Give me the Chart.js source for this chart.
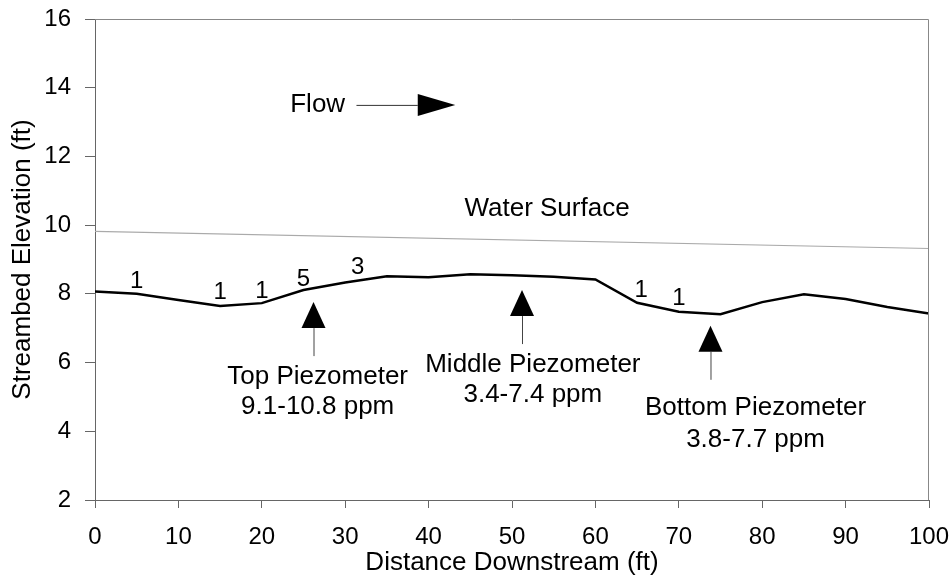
<!DOCTYPE html>
<html>
<head>
<meta charset="utf-8">
<script src="https://cdn.jsdelivr.net/npm/chart.js@4.4.1/dist/chart.umd.min.js"></script>
<style>
  html, body { margin: 0; padding: 0; background: #fff; }
  #wrap { width: 951px; height: 577px; }
</style>
</head>
<body>
<div id="wrap"><canvas id="chart"></canvas></div>
<script>
// streambed profile
const distance = [0, 5, 10, 15, 20, 25, 30, 35, 40, 45, 50, 55, 60, 65, 70, 75, 80, 85, 90, 95, 100];
const bedElevation = [8.07, 8.0, 7.82, 7.65, 7.73, 8.11, 8.33, 8.51, 8.48, 8.57, 8.54, 8.5, 8.42, 7.74, 7.48, 7.41, 7.76, 7.99, 7.85, 7.62, 7.43];

// water surface
const surfaceDistance = [0, 100];
const surfaceElevation = [9.82, 9.32];

// small numbers above the bed
const noteDistance = [5, 15, 20, 25, 31.5, 65.5, 70];
const noteElevation = [8.37, 8.03, 8.08, 8.43, 8.78, 8.11, 7.88];
const noteText = ['1', '1', '1', '5', '3', '1', '1'];

// piezometers
const piezoName = ['Top Piezometer', 'Middle Piezometer', 'Bottom Piezometer'];
const piezoRange = ['9.1-10.8 ppm', '3.4-7.4 ppm', '3.8-7.7 ppm'];
const piezoDistance = [26.2, 51.2, 73.8];
const piezoTip = [7.76, 8.11, 7.07];
const piezoLabelDistance = [26.7, 52.5, 79.2];
const piezoNameElevation = [5.58, 5.93, 4.68];
const piezoRangeElevation = [4.71, 5.06, 3.75];

const FONT = '"Liberation Sans", Arial, Helvetica, sans-serif';

const annotations = {
    id: 'annotations',
    afterDatasetsDraw(chart) {
        const { ctx, chartArea: a, scales: { x, y } } = chart;
        ctx.save();

        // top and right frame
        ctx.strokeStyle = '#888';
        ctx.lineWidth = 1;
        ctx.beginPath();
        ctx.moveTo(a.left, a.top + 0.5);
        ctx.lineTo(a.right - 0.5, a.top + 0.5);
        ctx.lineTo(a.right - 0.5, a.bottom);
        ctx.stroke();

        ctx.fillStyle = '#000';
        ctx.textAlign = 'center';
        ctx.textBaseline = 'middle';

        // counts
        ctx.font = '24px ' + FONT;
        noteText.forEach((t, i) => {
            ctx.fillText(t, x.getPixelForValue(noteDistance[i]), y.getPixelForValue(noteElevation[i]));
        });

        // piezometer arrows + labels
        ctx.font = '26px ' + FONT;
        piezoName.forEach((name, i) => {
            const px = x.getPixelForValue(piezoDistance[i]);
            const py = y.getPixelForValue(piezoTip[i]);
            ctx.strokeStyle = '#444';
            ctx.lineWidth = 1;
            ctx.beginPath();
            ctx.moveTo(px + 0.5, py + 26);
            ctx.lineTo(px + 0.5, py + 54);
            ctx.stroke();
            ctx.beginPath();
            ctx.moveTo(px, py);
            ctx.lineTo(px + 12, py + 26);
            ctx.lineTo(px - 12, py + 26);
            ctx.closePath();
            ctx.fill();
            const lx = x.getPixelForValue(piezoLabelDistance[i]);
            ctx.fillText(name, lx, y.getPixelForValue(piezoNameElevation[i]));
            ctx.fillText(piezoRange[i], lx, y.getPixelForValue(piezoRangeElevation[i]));
        });

        // water surface label
        ctx.fillText('Water Surface', x.getPixelForValue(54.2), y.getPixelForValue(10.47));

        // flow arrow
        const fy = y.getPixelForValue(13.5);
        ctx.fillText('Flow', x.getPixelForValue(26.7), fy);
        ctx.strokeStyle = '#333';
        ctx.beginPath();
        ctx.moveTo(x.getPixelForValue(31.35), fy + 0.5);
        ctx.lineTo(x.getPixelForValue(38.7), fy + 0.5);
        ctx.stroke();
        ctx.beginPath();
        ctx.moveTo(x.getPixelForValue(38.7), fy - 11);
        ctx.lineTo(x.getPixelForValue(43.2), fy);
        ctx.lineTo(x.getPixelForValue(38.7), fy + 11);
        ctx.closePath();
        ctx.fill();

        ctx.restore();
    }
};

new Chart(document.getElementById('chart'), {
    type: 'line',
    data: {
        datasets: [
            {
                label: 'Streambed',
                data: distance.map((d, i) => ({ x: d, y: bedElevation[i] })),
                borderColor: '#000',
                borderWidth: 2.5,
                pointRadius: 0,
                tension: 0
            },
            {
                label: 'Water Surface',
                data: surfaceDistance.map((d, i) => ({ x: d, y: surfaceElevation[i] })),
                borderColor: '#aaa',
                borderWidth: 1.2,
                pointRadius: 0,
                tension: 0
            }
        ]
    },
    options: {
        responsive: true,
        maintainAspectRatio: false,
        animation: false,
        layout: { padding: { top: 19, right: 22, left: 0, bottom: 0 } },
        plugins: { legend: { display: false }, tooltip: { enabled: false } },
        scales: {
            x: {
                type: 'linear',
                min: 0, max: 100,
                ticks: { stepSize: 10, color: '#000', padding: 15, font: { size: 24, family: FONT } },
                grid: { drawOnChartArea: false, tickLength: 8, color: '#666' },
                border: { color: '#666' },
                title: { display: true, text: 'Distance Downstream (ft)', color: '#000',
                         font: { size: 26, family: FONT, lineHeight: 1 }, padding: { top: 0, bottom: 1 } },
                afterFit(s) { s.height = 77; s.paddingLeft = 0; s.paddingRight = 0; }
            },
            y: {
                min: 2, max: 16,
                ticks: { stepSize: 2, color: '#000', padding: 14, font: { size: 24, family: FONT } },
                grid: { drawOnChartArea: false, tickLength: 10, color: '#666' },
                border: { color: '#666' },
                title: { display: true, text: 'Streambed Elevation (ft)', color: '#000',
                         font: { size: 26, family: FONT, lineHeight: 1 }, padding: { top: 10, bottom: 0 } },
                afterFit(s) { s.width = 95; s.paddingTop = 0; s.paddingBottom = 0; }
            }
        }
    },
    plugins: [annotations]
});
</script>
</body>
</html>
